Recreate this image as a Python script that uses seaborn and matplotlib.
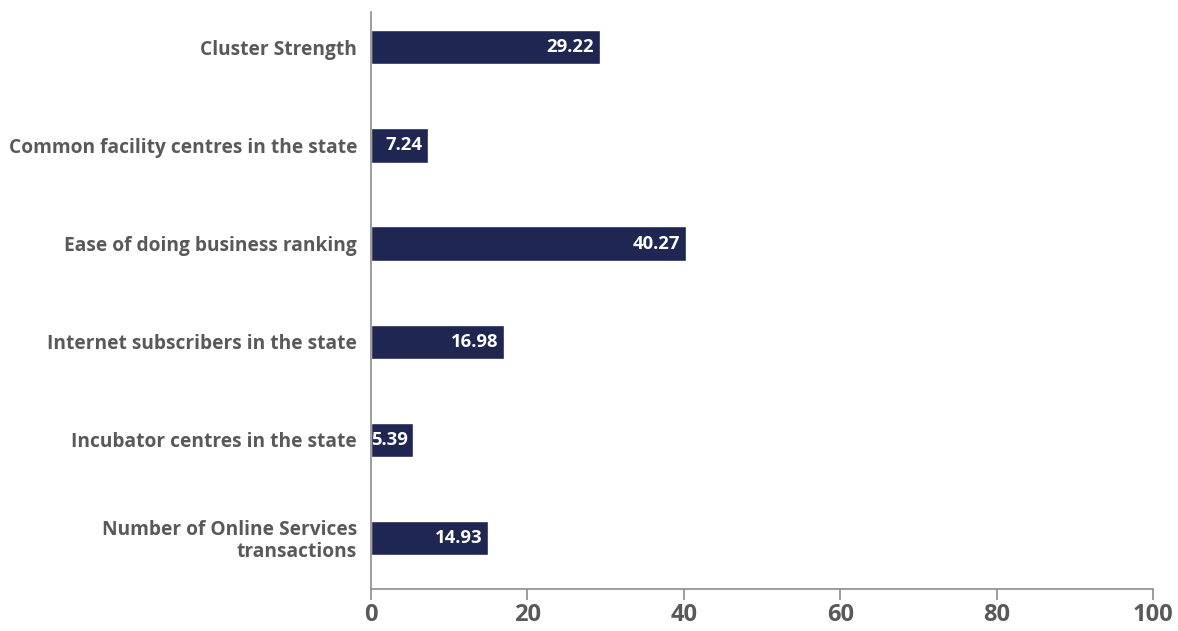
import matplotlib
matplotlib.use("Agg")
import matplotlib.pyplot as plt
import seaborn as sns
import pandas as pd

categories = [
    "Cluster Strength",
    "Common facility centres in the state",
    "Ease of doing business ranking",
    "Internet subscribers in the state",
    "Incubator centres in the state",
    "Number of Online Services\ntransactions",
]
values = [29.22, 7.24, 40.27, 16.98, 5.39, 14.93]
x_ticks = [0, 20, 40, 60, 80, 100]

df = pd.DataFrame({"category": categories, "value": values})

sns.set_theme(style="white")
plt.rcParams["font.family"] = ["Open Sans", "DejaVu Sans"]

bar_color = "#1f2651"
text_grey = "#595959"
axis_grey = "#8c8c8c"

fig = plt.figure(figsize=(11.78, 6.31), dpi=100)
ax = fig.add_axes([371 / 1178, 1 - 589 / 631, (1153 - 371) / 1178, (589 - 12) / 631])

sns.barplot(data=df, x="value", y="category", color=bar_color, width=0.35,
            saturation=1, ax=ax)

ax.set_xlim(0, 100)
ax.set_ylim(5.52, -0.36)
ax.set_xticks(x_ticks)
ax.set_xticklabels([str(t) for t in x_ticks], fontsize=17, fontweight="bold",
                   color=text_grey)
ax.set_yticks(range(len(categories)))
ax.set_yticklabels(categories, fontsize=13.8, fontweight="bold", color=text_grey,
                   ha="right", multialignment="right", linespacing=1.1)
ax.set_xlabel("")
ax.set_ylabel("")

for side in ["top", "right"]:
    ax.spines[side].set_visible(False)
for side in ["left", "bottom"]:
    ax.spines[side].set_color(axis_grey)
    ax.spines[side].set_linewidth(1.2)

ax.tick_params(axis="x", direction="out", length=8, width=1.2, color=axis_grey,
               pad=2, bottom=True)
ax.tick_params(axis="y", length=0, pad=10)

# value labels inside the right end of each bar
for i, v in enumerate(values):
    ax.annotate(f"{v:.2f}", xy=(v, i), xytext=(-4, 0), textcoords="offset points",
                ha="right", va="center", color="white", fontsize=13.3,
                fontweight="bold")

fig.savefig("out.png", dpi=100)
